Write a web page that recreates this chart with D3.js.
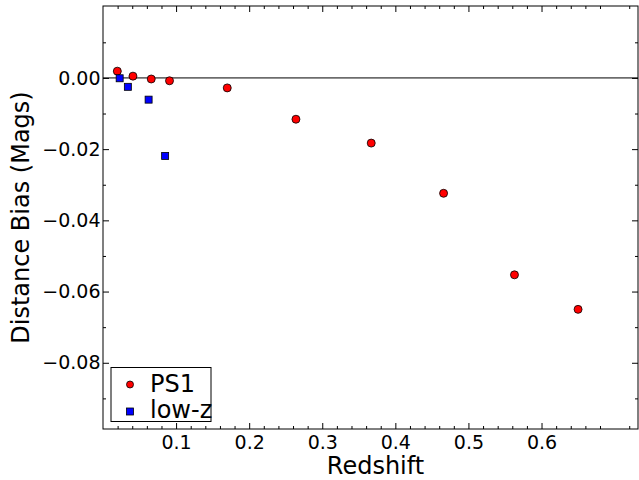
<!DOCTYPE html>
<html>
<head>
<meta charset="utf-8">
<script src="https://cdn.jsdelivr.net/npm/d3@7"></script>
<style>
  body { margin: 0; background: #fff; }
  text { font-family: "DejaVu Sans", sans-serif; }
</style>
</head>
<body>
<svg id="chart"></svg>
<script>
// PS1 points
const ps1Z = [0.0196, 0.041, 0.066, 0.091, 0.170, 0.264, 0.367, 0.466, 0.563, 0.650];
const ps1Bias = [0.0019, 0.0005, -0.0003, -0.0008, -0.0028, -0.0116, -0.0183, -0.0324, -0.0553, -0.0650];
// low-z points
const lowzZ = [0.0228, 0.034, 0.0624, 0.085];
const lowzBias = [-0.0001, -0.0025, -0.0061, -0.0219];

const xTicks = [0.1, 0.2, 0.3, 0.4, 0.5, 0.6];
const yTicks = [0.00, -0.02, -0.04, -0.06, -0.08];

const W = 639, H = 480;
const margin = { left: 103, right: 1, top: 6, bottom: 51 };

const svg = d3.select('#chart')
  .attr('width', W)
  .attr('height', H);

const x = d3.scaleLinear()
  .domain([0, 0.732])
  .range([margin.left, W - margin.right]);

const y = d3.scaleLinear()
  .domain([-0.0986, 0.0202])
  .range([H - margin.bottom, margin.top]);

const fmtY = d => d3.format('.2f')(d).replace('-', '\u2212');

// minor tick values
const xMinor = d3.range(0.02, 0.73, 0.02).filter(v => Math.abs(v * 10 - Math.round(v * 10)) > 1e-6);
const yMinor = d3.range(-0.09, 0.02, 0.02);

const tickStyle = g => {
  g.select('.domain').remove();
  g.selectAll('line').attr('stroke', '#000').attr('stroke-width', 1);
};

// major ticks (inward) on all four sides
svg.append('g')
  .attr('transform', `translate(0,${H - margin.bottom})`)
  .call(d3.axisBottom(x).tickValues(xTicks).tickSize(-6).tickPadding(6.5).tickFormat(d3.format('.1f')))
  .call(tickStyle)
  .selectAll('text').attr('font-size', 19).attr('fill', '#000');

svg.append('g')
  .attr('transform', `translate(0,${H - margin.bottom})`)
  .call(d3.axisBottom(x).tickValues(xMinor).tickSize(-3).tickFormat(''))
  .call(tickStyle);

svg.append('g')
  .attr('transform', `translate(0,${margin.top})`)
  .call(d3.axisTop(x).tickValues(xTicks).tickSize(-6).tickFormat(''))
  .call(tickStyle);

svg.append('g')
  .attr('transform', `translate(0,${margin.top})`)
  .call(d3.axisTop(x).tickValues(xMinor).tickSize(-3).tickFormat(''))
  .call(tickStyle);

svg.append('g')
  .attr('transform', `translate(${margin.left},0)`)
  .call(d3.axisLeft(y).tickValues(yTicks).tickSize(-6).tickPadding(2.5).tickFormat(fmtY))
  .call(tickStyle)
  .selectAll('text').attr('font-size', 19).attr('fill', '#000');

svg.append('g')
  .attr('transform', `translate(${margin.left},0)`)
  .call(d3.axisLeft(y).tickValues(yMinor).tickSize(-3).tickFormat(''))
  .call(tickStyle);

svg.append('g')
  .attr('transform', `translate(${W - margin.right},0)`)
  .call(d3.axisRight(y).tickValues(yTicks).tickSize(-6).tickFormat(''))
  .call(tickStyle);

svg.append('g')
  .attr('transform', `translate(${W - margin.right},0)`)
  .call(d3.axisRight(y).tickValues(yMinor).tickSize(-3).tickFormat(''))
  .call(tickStyle);

// frame
svg.append('rect')
  .attr('x', margin.left)
  .attr('y', margin.top)
  .attr('width', W - margin.right - margin.left)
  .attr('height', H - margin.bottom - margin.top)
  .attr('fill', 'none')
  .attr('stroke', '#000')
  .attr('stroke-width', 1);

// zero line
svg.append('line')
  .attr('x1', margin.left).attr('x2', W - margin.right)
  .attr('y1', y(0)).attr('y2', y(0))
  .attr('stroke', '#000').attr('stroke-width', 1);

// PS1
svg.selectAll('circle.ps1')
  .data(d3.zip(ps1Z, ps1Bias))
  .enter()
  .append('circle')
  .attr('class', 'ps1')
  .attr('cx', d => x(d[0]))
  .attr('cy', d => y(d[1]))
  .attr('r', 4)
  .attr('fill', '#ff0000')
  .attr('stroke', '#000')
  .attr('stroke-width', 0.8);

// low-z
const sq = 7;
svg.selectAll('rect.lowz')
  .data(d3.zip(lowzZ, lowzBias))
  .enter()
  .append('rect')
  .attr('class', 'lowz')
  .attr('x', d => x(d[0]) - sq / 2)
  .attr('y', d => y(d[1]) - sq / 2)
  .attr('width', sq)
  .attr('height', sq)
  .attr('fill', '#0000ff')
  .attr('stroke', '#000')
  .attr('stroke-width', 0.8);

// axis labels
svg.append('text')
  .attr('x', 375.5)
  .attr('y', 473.5)
  .attr('text-anchor', 'middle')
  .attr('font-size', 24)
  .text('Redshift');

svg.append('text')
  .attr('transform', `translate(29,${(margin.top + H - margin.bottom) / 2}) rotate(-90)`)
  .attr('text-anchor', 'middle')
  .attr('font-size', 24)
  .text('Distance Bias (Mags)');

// legend
const lg = svg.append('g').attr('transform', 'translate(111,367.5)');
lg.append('rect')
  .attr('width', 100).attr('height', 54)
  .attr('fill', '#fff').attr('stroke', '#000').attr('stroke-width', 1);
lg.append('circle')
  .attr('cx', 19).attr('cy', 17).attr('r', 3.5)
  .attr('fill', '#ff0000').attr('stroke', '#000').attr('stroke-width', 0.8);
lg.append('rect')
  .attr('x', 15.5).attr('y', 40.5).attr('width', 7).attr('height', 7)
  .attr('fill', '#0000ff').attr('stroke', '#000').attr('stroke-width', 0.8);
lg.append('text').attr('x', 39).attr('y', 24).attr('font-size', 24).text('PS1');
lg.append('text').attr('x', 39).attr('y', 50.5).attr('font-size', 24).text('low-z');
</script>
</body>
</html>
